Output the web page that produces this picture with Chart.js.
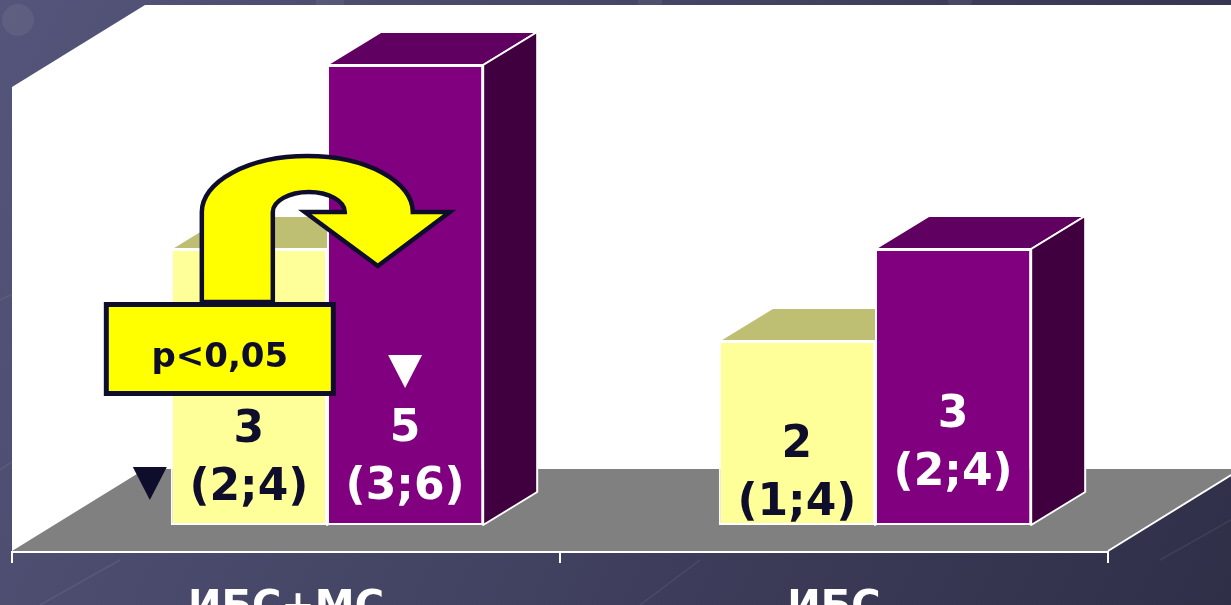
<!DOCTYPE html>
<html>
<head>
<meta charset="utf-8">
<script src="https://cdn.jsdelivr.net/npm/chart.js@4.4.1/dist/chart.umd.min.js"></script>
<style>
    html, body { margin: 0; padding: 0; background: #40405f; }
    #wrap { width: 1231px; height: 605px; }
</style>
</head>
<body>
<div id="wrap"><canvas id="myChart" width="1231" height="605"></canvas></div>
<script>
// data //

const categories = ['ИБС+МС', 'ИБС'];
const medianA = [3, 2];              // жёлтые столбцы
const medianB = [5, 3];              // фиолетовые столбцы
const quartilesA = ['(2;4)', '(1;4)'];
const quartilesB = ['(3;6)', '(2;4)'];
const yMin = 0;
const yMax = 5.5;

// helpers //

function poly(ctx, pts, fill, stroke) {
    ctx.beginPath();
    ctx.moveTo(pts[0][0], pts[0][1]);
    for (let i = 1; i < pts.length; i++) ctx.lineTo(pts[i][0], pts[i][1]);
    ctx.closePath();
    ctx.fillStyle = fill;
    ctx.fill();
    if (stroke) {
        ctx.strokeStyle = stroke;
        ctx.lineWidth = 2;
        ctx.lineJoin = 'round';
        ctx.stroke();
    }
}

function triangleDown(ctx, cx, top, w, h, color) {
    poly(ctx, [[cx - w / 2, top], [cx + w / 2, top], [cx, top + h]], color);
}

// background, walls and floor + side/top faces of the bars
const frame3d = {
    id: 'frame3d',
    beforeDatasetsDraw(chart, args, o) {
        const { ctx, width, height, chartArea: a } = chart;
        ctx.save();

        let g = ctx.createLinearGradient(0, 0, width, height);
        g.addColorStop(0, '#55557b');
        g.addColorStop(1, '#2f2f48');
        ctx.fillStyle = g;
        ctx.fillRect(0, 0, width, height);

        // faint pattern on the background
        ctx.strokeStyle = 'rgba(255,255,255,0.07)';
        ctx.lineWidth = 1.5;
        [[0, 470, 160, 360], [0, 300, 60, 270], [1160, 560, 1231, 520], [640, 605, 700, 560], [40, 605, 120, 560]].forEach(l => {
            ctx.beginPath(); ctx.moveTo(l[0], l[1]); ctx.lineTo(l[2], l[3]); ctx.stroke();
        });
        ctx.fillStyle = 'rgba(255,255,255,0.06)';
        [[18, 20, 16], [330, 2, 14], [650, 2, 12], [960, 0, 12], [1290 - 30, 6, 14]].forEach(c => {
            ctx.beginPath(); ctx.arc(c[0], c[1], c[2], 0, Math.PI * 2); ctx.fill();
        });

        const fx = a.left + o.front[0], fy = a.bottom + o.front[1];
        const rx = a.right + o.front[0];
        const bx = a.left + o.back[0], by = a.bottom + o.back[1];
        const rbx = a.right + o.back[0];
        const sideTop = o.wallTop + (o.front[1] - o.back[1]);

        // white walls
        poly(ctx, [[bx, o.wallTop], [width + 20, o.wallTop], [rbx, by], [rx, fy], [fx, fy], [fx, sideTop]], '#ffffff');
        // grey floor
        poly(ctx, [[fx, fy], [rx, fy], [rbx, by], [bx, by]], '#808080');

        // axis line, ticks and floor edge
        ctx.strokeStyle = '#ffffff';
        ctx.lineWidth = 2;
        ctx.beginPath();
        ctx.moveTo(fx, fy + 1); ctx.lineTo(rx, fy + 1);
        ctx.moveTo(rx, fy); ctx.lineTo(rbx, by);
        const n = chart.data.labels.length;
        for (let i = 0; i <= n; i++) {
            const tx = fx + i * (rx - fx) / n;
            ctx.moveTo(tx, fy); ctx.lineTo(tx, fy + 12);
        }
        ctx.stroke();

        // top and side faces; the front faces are drawn by Chart.js afterwards
        const [dx, dy] = o.depth;
        chart.data.datasets.forEach((ds, di) => {
            const meta = chart.getDatasetMeta(di);
            const col = o.faces[di];
            meta.data.forEach(bar => {
                const l = bar.x - bar.width / 2, r = bar.x + bar.width / 2;
                const t = bar.y, b = bar.base;
                poly(ctx, [[l, t], [l + dx, t + dy], [r + dx, t + dy], [r, t]], col.top, '#ffffff');
                poly(ctx, [[r, t], [r + dx, t + dy], [r + dx, b + dy], [r, b]], col.side, '#ffffff');
            });
        });
        ctx.restore();
    }
};

// values inside the bars, markers, p-value arrow and category names
const overlay = {
    id: 'overlay',
    afterDatasetsDraw(chart, args, o) {
        const { ctx, chartArea: a } = chart;
        ctx.save();
        const font = '"DejaVu Sans", Verdana, sans-serif';

        // medians and quartiles
        ctx.textAlign = 'center';
        ctx.textBaseline = 'alphabetic';
        ctx.font = 'bold 44px ' + font;
        const texts = [quartilesA, quartilesB];
        chart.data.datasets.forEach((ds, di) => {
            chart.getDatasetMeta(di).data.forEach((bar, i) => {
                const y = bar.base - o.lift[di][i];
                ctx.fillStyle = o.textColors[di];
                ctx.fillText(String(ds.data[i]), bar.x, y);
                ctx.fillText(texts[di][i], bar.x, y + o.lineGap);
            });
        });

        // ▼ markers
        o.markers.forEach(m => {
            const bar = chart.getDatasetMeta(m.dataset).data[m.index];
            const cx = m.dx === null ? bar.x : bar.x - bar.width / 2 + m.dx;
            triangleDown(ctx, cx, bar.base - m.lift, 34, 33, m.color);
        });

        // U-shaped arrow from the yellow bar to the purple one
        const ref = chart.getDatasetMeta(0).data[0];
        const ax = ref.x - ref.width / 2, ay = ref.base;
        const ink = '#0e0e2c';
        ctx.beginPath();
        ctx.moveTo(ax + 31, ay - 223);
        ctx.lineTo(ax + 31, ay - 313);
        ctx.ellipse(ax + 136.5, ay - 313, 105.5, 56, 0, Math.PI, Math.PI * 2, false);
        ctx.lineTo(ax + 279, ay - 313);
        ctx.lineTo(ax + 207, ay - 259);
        ctx.lineTo(ax + 134, ay - 313);
        ctx.lineTo(ax + 174, ay - 313);
        ctx.ellipse(ax + 138, ay - 313, 36, 20, 0, 0, Math.PI, true);
        ctx.lineTo(ax + 102, ay - 223);
        ctx.closePath();
        ctx.fillStyle = '#ffff00';
        ctx.fill();
        ctx.lineWidth = 4.5;
        ctx.lineJoin = 'miter';
        ctx.strokeStyle = ink;
        ctx.stroke();

        // p-value box
        ctx.fillStyle = '#ffff00';
        ctx.fillRect(ax - 64.5, ay - 220.5, 227, 89);
        ctx.lineWidth = 5;
        ctx.strokeRect(ax - 64.5, ay - 220.5, 227, 89);
        ctx.fillStyle = ink;
        ctx.font = 'bold 34px ' + font;
        ctx.fillText('p<0,05', ax + 49, ay - 158);

        // category names under the floor
        const fx = a.left + o.front[0];
        const w = (a.right - a.left) / chart.data.labels.length;
        ctx.fillStyle = '#ffffff';
        ctx.font = 'bold 40px ' + font;
        chart.data.labels.forEach((lab, i) => {
            ctx.fillText(lab, fx + w * (i + 0.5), a.bottom + 94);
        });
        ctx.restore();
    }
};

const ctx = document.getElementById('myChart').getContext('2d');
const myChart = new Chart(ctx, {
    type: 'bar',
    data: {
        labels: categories,
        datasets: [
            {
                label: 'Ряд 1',
                data: medianA,
                backgroundColor: '#ffff99',
                borderColor: '#ffffff',
                borderWidth: 2,
                borderSkipped: false
            },
            {
                label: 'Ряд 2',
                data: medianB,
                backgroundColor: '#800080',
                borderColor: '#ffffff',
                borderWidth: 2,
                borderSkipped: false
            }
        ]
    },
    options: {
        responsive: false,
        animation: false,
        layout: { padding: { left: 53, right: 82, top: 19, bottom: 80 } },
        datasets: { bar: { categoryPercentage: 0.57, barPercentage: 1 } },
        scales: {
            x: { display: false },
            y: { display: false, min: yMin, max: yMax }
        },
        plugins: {
            legend: { display: false },
            tooltip: { enabled: false },
            frame3d: {
                front: [-41, 26],
                back: [92, -56],
                wallTop: 5,
                depth: [54, -33],
                faces: [
                    { top: '#bfbf73', side: '#80804d' },
                    { top: '#600060', side: '#400040' }
                ]
            },
            overlay: {
                front: [-41, 26],
                lift: [[83, 68], [84, 98]],
                lineGap: 58,
                textColors: ['#0e0e2c', '#ffffff'],
                markers: [
                    { dataset: 0, index: 0, dx: -21, lift: 58, color: '#0e0e2c' },
                    { dataset: 1, index: 0, dx: null, lift: 170, color: '#ffffff' }
                ]
            }
        }
    },
    plugins: [frame3d, overlay]
});
</script>
</body>
</html>
